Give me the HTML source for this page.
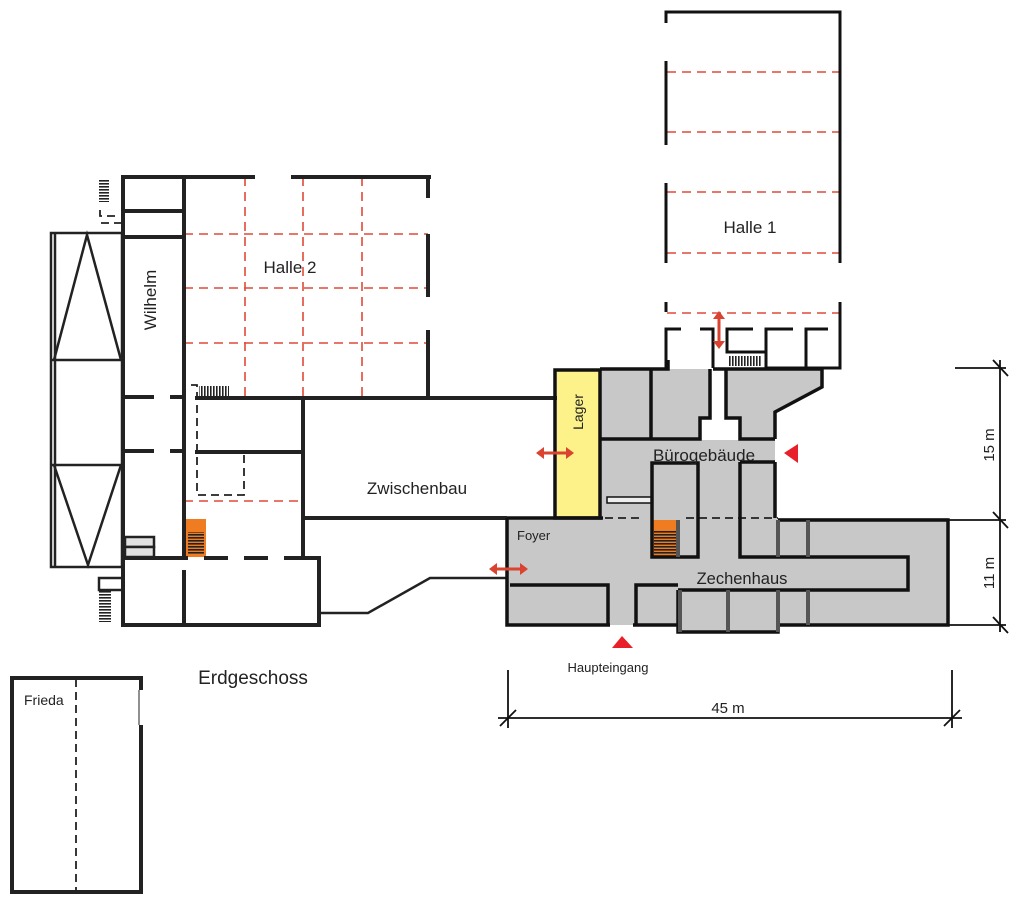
<!DOCTYPE html>
<html><head><meta charset="utf-8"><style>
html,body{margin:0;padding:0;background:#fff;}
svg{display:block;}
text{font-family:"Liberation Sans",sans-serif;fill:#222;}
</style></head><body>
<svg width="1024" height="907" viewBox="0 0 1024 907" xmlns="http://www.w3.org/2000/svg">
<defs>
<pattern id="hatch" width="3" height="10" patternUnits="userSpaceOnUse"><rect width="1.6" height="10" fill="#222"/></pattern>
<pattern id="hatchH" width="10" height="3" patternUnits="userSpaceOnUse"><rect width="10" height="1.6" fill="#222"/></pattern>
</defs>

<g fill="#c8c8c8">
<polygon points="600,369 710,369 710,418 700,418 700,440 740,440 740,418 726,418 726,369 822,369 822,387 775,412 775,518 600,518"/>
<rect x="507" y="518" width="441" height="107"/>
<rect x="678" y="590" width="100" height="42"/>
</g>
<rect x="700" y="418" width="40" height="22" fill="#fff"/>
<rect x="710" y="369" width="16" height="50" fill="#fff"/>
<rect x="557" y="371" width="42" height="147" fill="#fdf28a"/>

<rect x="186" y="519" width="20" height="38" fill="#f07c22"/>
<rect x="188" y="532" width="16" height="23" fill="url(#hatchH)"/>
<rect x="652" y="520" width="26" height="37" fill="#f07c22"/>
<rect x="654" y="531" width="22" height="24" fill="url(#hatchH)"/>

<g stroke="#e04a3a" stroke-width="1.6" stroke-dasharray="9,6" fill="none">
<line x1="245" y1="177" x2="245" y2="398"/>
<line x1="303" y1="177" x2="303" y2="398"/>
<line x1="362" y1="177" x2="362" y2="398"/>
<line x1="184" y1="234" x2="428" y2="234"/>
<line x1="184" y1="288" x2="428" y2="288"/>
<line x1="184" y1="343" x2="428" y2="343"/>
<line x1="184" y1="501" x2="303" y2="501"/>
<line x1="667" y1="72" x2="840" y2="72"/>
<line x1="667" y1="132" x2="840" y2="132"/>
<line x1="667" y1="192" x2="840" y2="192"/>
<line x1="667" y1="253" x2="840" y2="253"/>
<line x1="667" y1="313" x2="840" y2="313"/>
</g>

<g stroke="#222" stroke-width="4" fill="none" stroke-linecap="square">
<line x1="123" y1="177" x2="123" y2="625"/>
<line x1="184" y1="177" x2="184" y2="556"/>
<line x1="123" y1="177" x2="253" y2="177"/>
<line x1="293" y1="177" x2="429" y2="177"/>
<line x1="123" y1="211" x2="184" y2="211"/>
<line x1="123" y1="237" x2="184" y2="237"/>
<line x1="123" y1="397" x2="152" y2="397"/>
<line x1="172" y1="397" x2="184" y2="397"/>
<line x1="123" y1="451" x2="152" y2="451"/>
<line x1="172" y1="451" x2="184" y2="451"/>
<line x1="428" y1="177" x2="428" y2="196"/>
<line x1="428" y1="236" x2="428" y2="295"/>
<line x1="428" y1="332" x2="428" y2="398"/>
<line x1="197" y1="398" x2="555" y2="398"/>
<line x1="197" y1="452" x2="303" y2="452"/>
<line x1="303" y1="398" x2="303" y2="556"/>
<line x1="123" y1="558" x2="186" y2="558"/>
<line x1="206" y1="558" x2="226" y2="558"/>
<line x1="246" y1="558" x2="266" y2="558"/>
<line x1="286" y1="558" x2="319" y2="558"/>
<line x1="319" y1="558" x2="319" y2="625"/>
<line x1="123" y1="625" x2="319" y2="625"/>
<line x1="184" y1="572" x2="184" y2="625"/>
<line x1="303" y1="518" x2="505" y2="518"/>
</g>
<g stroke="#222" stroke-width="2.5" fill="none">
<polyline points="319,613 368,613 430,578 507,578"/>
<rect x="51" y="233" width="71" height="334"/>
<line x1="55" y1="233" x2="55" y2="567"/>
<line x1="51" y1="360" x2="122" y2="360"/>
<line x1="51" y1="465" x2="122" y2="465"/>
<polyline points="54,360 87,235 121,360"/>
<polyline points="54,465 88,565 121,465"/>
<rect x="125" y="537" width="29" height="10" fill="#e2e2e2"/>
<rect x="125" y="547" width="29" height="10" fill="#e2e2e2"/>
<polyline points="122,578 99,578 99,590 122,590"/>
</g>
<rect x="99" y="590" width="12" height="32" fill="url(#hatchH)"/>
<rect x="99" y="180" width="10" height="22" fill="url(#hatchH)"/>
<rect x="199" y="386" width="30" height="11" fill="url(#hatch)"/>
<g stroke="#222" stroke-width="1.8" fill="none" stroke-dasharray="8,5">
<polyline points="100,210 100,216 117,216"/>
<line x1="101" y1="223" x2="122" y2="223"/>
<polyline points="191,385 197,385 197,495 244,495 244,452"/>
<line x1="605" y1="518" x2="640" y2="518"/>
<line x1="686" y1="518" x2="778" y2="518"/>
<line x1="76" y1="679" x2="76" y2="890"/>
</g>

<g stroke="#111" stroke-width="3" fill="none">
<polyline points="666,23 666,12 840,12 840,263"/>
<line x1="666" y1="61" x2="666" y2="145"/>
<line x1="666" y1="183" x2="666" y2="263"/>
<line x1="666" y1="302" x2="666" y2="312"/>
<polyline points="840,302 840,368 805,368"/>
<polyline points="681,329 666,329 666,368"/>
<polyline points="700,329 713,329 713,368"/>
<polyline points="753,329 727,329 727,352 766,352"/>
<polyline points="793,329 766,329 766,368"/>
<polyline points="828,329 806,329 806,368"/>
<line x1="766" y1="368" x2="806" y2="368"/>
</g>
<rect x="729" y="356" width="32" height="10" fill="url(#hatch)"/>

<g stroke="#111" stroke-width="3.5" fill="none">
<rect x="555" y="370" width="45" height="148"/>
<polyline points="600,369 668,369 668,360"/>
<polyline points="651,369 651,438"/>
<polyline points="600,439 700,439 700,418 710,418 710,369"/>
<polyline points="726,369 726,418 740,418 740,439 775,439"/>
<polyline points="713,369 822,369 822,387 775,412 775,439"/>
<polyline points="775,462 775,518"/>
<rect x="652" y="463" width="46" height="94"/>
<polyline points="740,462 775,462"/>
<polyline points="740,462 740,557 908,557 908,590 678,590"/>
<polyline points="507,518 603,518"/>
<polyline points="507,518 507,625 610,625"/>
<polyline points="633,625 678,625"/>
<polyline points="510,585 608,585 608,625"/>
<polyline points="636,625 636,585 678,585"/>
<polyline points="678,590 678,632 778,632 778,625 948,625 948,520 778,520"/>
</g>
<rect x="607" y="497" width="44" height="6" fill="#eee" stroke="#111" stroke-width="1.5"/>
<g stroke="#555" stroke-width="4">
<line x1="778" y1="520" x2="778" y2="557"/><line x1="778" y1="590" x2="778" y2="632"/>
<line x1="808" y1="520" x2="808" y2="557"/><line x1="808" y1="590" x2="808" y2="625"/>
<line x1="728" y1="590" x2="728" y2="632"/>
<line x1="680" y1="590" x2="680" y2="632"/>
<line x1="678" y1="520" x2="678" y2="557"/>
</g>

<g stroke="#d9432f" stroke-width="3" fill="#d9432f">
<line x1="542" y1="453" x2="568" y2="453"/>
<line x1="495" y1="569" x2="522" y2="569"/>
<line x1="719" y1="317" x2="719" y2="343"/>
</g>
<g fill="#d9432f">
<polygon points="536,453 544,447 544,459"/><polygon points="574,453 566,447 566,459"/>
<polygon points="489,569 497,563 497,575"/><polygon points="528,569 520,563 520,575"/>
<polygon points="719,311 713,319 725,319"/><polygon points="719,349 713,341 725,341"/>
</g>
<g fill="#e8202a">
<polygon points="612,648 633,648 622,636"/>
<polygon points="784,453 798,444 798,463"/>
</g>

<g stroke="#111" stroke-width="1.8" fill="none">
<line x1="1000" y1="360" x2="1000" y2="632"/>
<line x1="955" y1="368" x2="1006" y2="368"/>
<line x1="948" y1="520" x2="1006" y2="520"/>
<line x1="948" y1="625" x2="1006" y2="625"/>
<line x1="993" y1="360" x2="1008" y2="376"/>
<line x1="993" y1="512" x2="1008" y2="528"/>
<line x1="993" y1="617" x2="1008" y2="633"/>
<line x1="498" y1="718" x2="962" y2="718"/>
<line x1="508" y1="670" x2="508" y2="728"/>
<line x1="952" y1="670" x2="952" y2="728"/>
<line x1="500" y1="726" x2="516" y2="710"/>
<line x1="944" y1="726" x2="960" y2="710"/>
</g>

<g stroke="#222" stroke-width="4" fill="none">
<polyline points="141,725 141,892 12,892 12,678 141,678 141,690"/>
</g>
<line x1="139" y1="690" x2="139" y2="725" stroke="#222" stroke-width="1"/>

<text x="290" y="273" font-size="17" text-anchor="middle">Halle 2</text>
<text x="750" y="233" font-size="17" text-anchor="middle">Halle 1</text>
<text transform="translate(156,300) rotate(-90)" font-size="17" text-anchor="middle">Wilhelm</text>
<text x="417" y="494" font-size="17" text-anchor="middle">Zwischenbau</text>
<text transform="translate(583,412) rotate(-90)" font-size="14" text-anchor="middle">Lager</text>
<text x="704" y="461" font-size="17" text-anchor="middle">Bürogebäude</text>
<text x="517" y="540" font-size="13">Foyer</text>
<text x="742" y="584" font-size="16.5" text-anchor="middle">Zechenhaus</text>
<text x="608" y="672" font-size="13" text-anchor="middle">Haupteingang</text>
<text x="253" y="684" font-size="19" text-anchor="middle">Erdgeschoss</text>
<text x="24" y="705" font-size="14">Frieda</text>
<text x="728" y="713" font-size="15" text-anchor="middle">45 m</text>
<text transform="translate(994,445) rotate(-90)" font-size="15" text-anchor="middle">15 m</text>
<text transform="translate(994,573) rotate(-90)" font-size="15" text-anchor="middle">11 m</text>
</svg>
</body></html>
